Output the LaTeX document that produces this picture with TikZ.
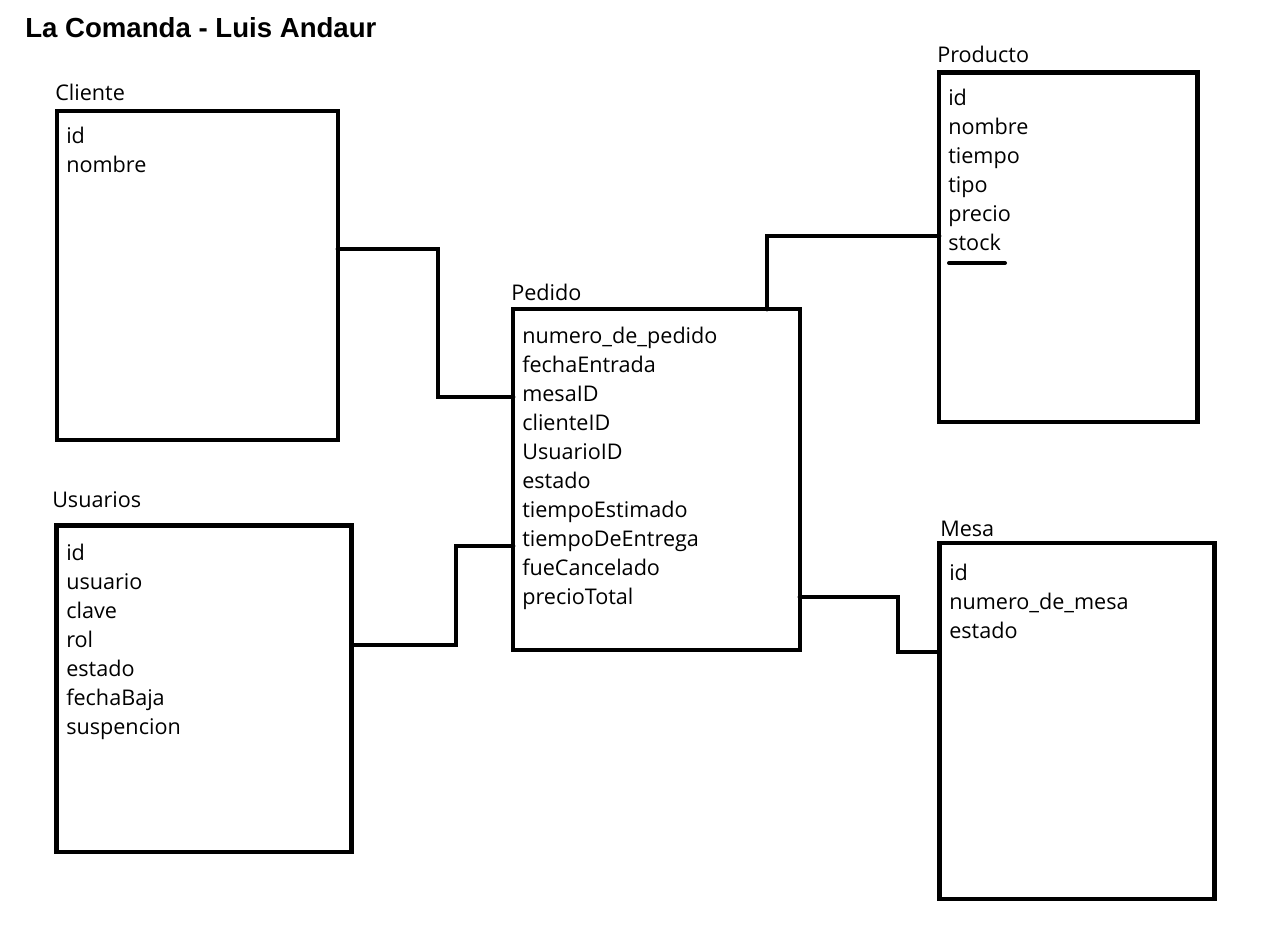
\documentclass[tikz,border=0pt]{standalone}
\usepackage{fontspec}
\setmainfont{Open Sans}
\newfontfamily\titlefont{Liberation Sans}
\usetikzlibrary{positioning}

\tikzset{
    tabla/.style={draw, line width=3.6pt, rectangle, inner sep=0pt, outer sep=0pt, anchor=north west},
    campo/.style={anchor=base west, inner sep=0pt, font=\fontsize{16.2}{18}\selectfont},
    nombreTabla/.style={anchor=base west, inner sep=0pt, font=\fontsize{16.2}{18}\selectfont},
    conector/.style={line width=3.6pt, line cap=round},
}

\begin{document}
\begin{tikzpicture}[x=0.75pt, y=-0.75pt]
    \useasboundingbox (0,0) rectangle (1269,928);
    \node[anchor=base west, inner sep=0pt, font=\titlefont\bfseries\fontsize{20.7}{24}\selectfont] (titulo) at (25,37) {La Comanda - Luis Andaur};

    % tablas
    \node[tabla, minimum width=210.75pt, minimum height=246.75pt] (cliente) at (57,111) {};
    \node[tabla, minimum width=193.9pt, minimum height=262.1pt] (producto) at (939,72.5) {};
    \node[tabla, minimum width=215.25pt, minimum height=255.75pt] (pedido) at (513,309) {};
    \node[tabla, minimum width=221.25pt, minimum height=244.9pt] (usuarios) at (56.5,525.5) {};
    \node[tabla, minimum width=206.25pt, minimum height=267pt] (mesa) at (939.5,543) {};

    \node[nombreTabla] (clienteNombre) at (55,100) {Cliente};
    \node[nombreTabla] (productoNombre) at (937,62) {Producto};
    \node[nombreTabla] (pedidoNombre) at (511,300) {Pedido};
    \node[nombreTabla] (usuariosNombre) at (52,507) {Usuarios};
    \node[nombreTabla] (mesaNombre) at (940,536) {Mesa};

    % campos
    \foreach \c [count=\i] in {id, nombre}
        \node[campo] (cliente-\i) at (66,{143+29*(\i-1)}) {\c};
    \foreach \c [count=\i] in {id, nombre, tiempo, tipo, precio, stock}
        \node[campo] (producto-\i) at (948,{105+29*(\i-1)}) {\c};
    \foreach \c [count=\i] in {numero\_de\_pedido, fechaEntrada, mesaID, clienteID, UsuarioID, estado, tiempoEstimado, tiempoDeEntrega, fueCancelado, precioTotal}
        \node[campo] (pedido-\i) at (522,{343+29*(\i-1)}) {\c};
    \foreach \c [count=\i] in {id, usuario, clave, rol, estado, fechaBaja, suspencion}
        \node[campo] (usuarios-\i) at (66,{560+29*(\i-1)}) {\c};
    \foreach \c [count=\i] in {id, numero\_de\_mesa, estado}
        \node[campo] (mesa-\i) at (949,{580+29*(\i-1)}) {\c};

    \draw[conector, line width=3pt] (949,263) -- (1005,263);

    % relaciones
    \draw[conector] (cliente.east |- 0,249) -| (438,397) -- (pedido.west |- 0,397);
    \draw[conector] (usuarios.east |- 0,645) -| (456,546) -- (pedido.west |- 0,546);
    \draw[conector] (pedido.north -| 767,0) |- (producto.west |- 0,236);
    \draw[conector] (pedido.east |- 0,597) -| (898,652) -- (mesa.west |- 0,652);
\end{tikzpicture}
\end{document}
